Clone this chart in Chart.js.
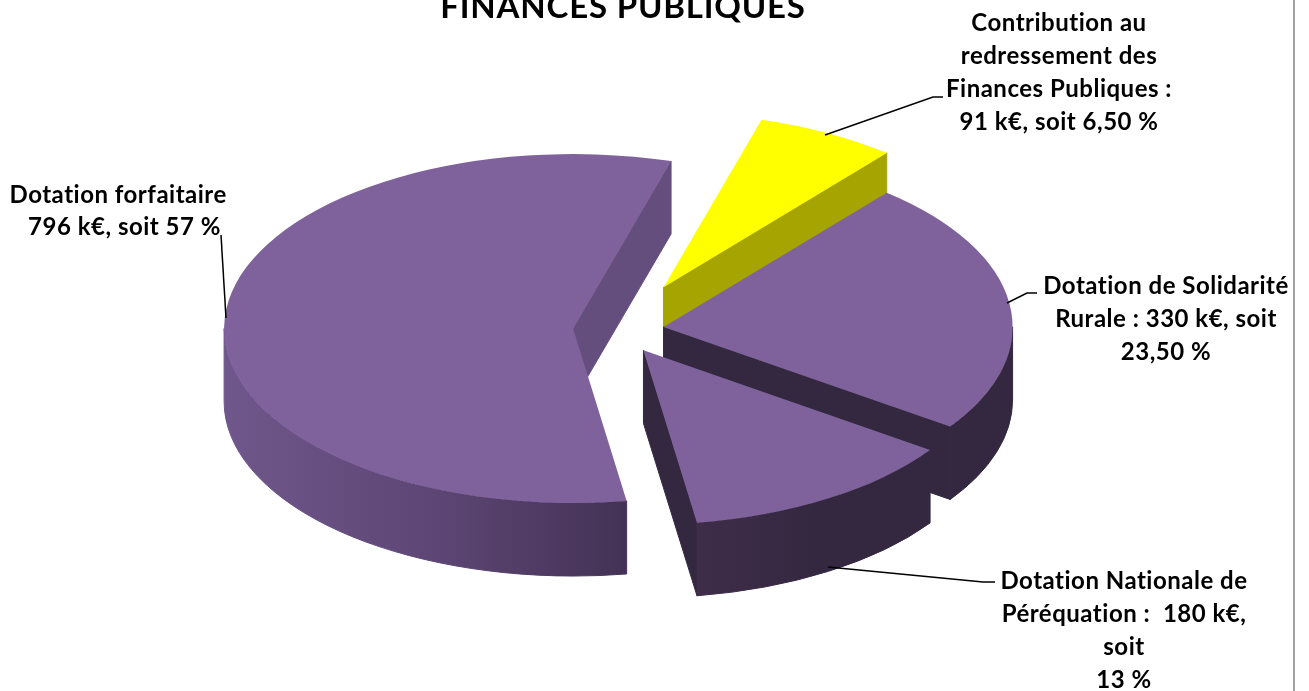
<!DOCTYPE html>
<html lang="fr">
<head>
<meta charset="utf-8">
<title>Finances publiques</title>
<script src="https://cdn.jsdelivr.net/npm/chart.js@4"></script>
<style>
  html, body { margin: 0; background: #fff; }
  #wrap { position: relative; width: 1309px; height: 691px; overflow: hidden; }
  #edge { position: absolute; left: 1293px; top: 0; width: 2px; height: 691px; background: #a3a3a3; }
</style>
</head>
<body>
<div id="wrap">
  <canvas id="pie" width="1309" height="691"></canvas>
  <div id="edge"></div>
</div>
<script>
// ================================
// DATA
// ================================
const chartTitle = 'FINANCES PUBLIQUES';
const categories = [
  'Contribution au redressement des Finances Publiques',
  'Dotation de Solidarité Rurale',
  'Dotation Nationale de Péréquation',
  'Dotation forfaitaire'
];
const amounts = [91, 330, 180, 796];
const labelLines = [
  ['Contribution au', 'redressement des', 'Finances Publiques :', '91 k€, soit 6,50 %'],
  ['Dotation de Solidarité', 'Rurale : 330 k€, soit', '23,50 %'],
  ['Dotation Nationale de', 'Péréquation :  180 k€,', 'soit', '13 %'],
  ['Dotation forfaitaire  ', '796 k€, soit 57 %']
];

// ================================
// LOOK
// ================================
const FONT = 'Lato, "Open Sans", sans-serif';
const SQUASH = 0.5;     // vertical tilt of the pie
const DEPTH = 73;       // height of the extruded walls
const explode = [97, 46, 48, 45];
const topColors = ['#ffff00', '#7f619c', '#7f619c', '#7f619c'];
const edgeColors = ['#a5a400', '#332840', '#332840', '#644e7e'];
const wallColors = [
  ['#a5a400', '#a5a400'],
  ['#332840', '#332840'],
  ['#3f2d4a', '#342840', '#332840'],
  ['#6f578b', '#5e4776', '#443255']
];
const labelAnchors = [[1059, 23], [1166, 286], [1124, 581], [124.5, 195]];
const leaders = [
  [[825, 135], [933, 97], [943, 97]],
  [[1007, 303], [1027, 293], [1037, 293]],
  [[828, 567], [983, 582], [995, 582]],
  [[221, 235], [226, 318]]
];
const drawOrder = [0, 3, 1, 2];

// ================================
// 3D PIE DRAWING
// ================================
function sliceCenter(arc, i) {
  const mid = (arc.startAngle + arc.endAngle) / 2;
  return {
    x: arc.x + Math.cos(mid) * explode[i],
    y: arc.y + Math.sin(mid) * explode[i] * SQUASH
  };
}

function radialWall(ctx, c, r, angle, color) {
  const px = c.x + Math.cos(angle) * r;
  const py = c.y + Math.sin(angle) * r * SQUASH;
  ctx.fillStyle = color;
  ctx.strokeStyle = color;
  ctx.lineWidth = 1;
  ctx.beginPath();
  ctx.moveTo(c.x, c.y);
  ctx.lineTo(px, py);
  ctx.lineTo(px, py + DEPTH);
  ctx.lineTo(c.x, c.y + DEPTH);
  ctx.closePath();
  ctx.fill();
  ctx.stroke();
}

function outerWall(ctx, c, r, arc, colors) {
  // only the part of the rim facing the viewer, canvas angles 0..PI
  const tau = Math.PI * 2;
  let a = arc.startAngle;
  let b = arc.endAngle;
  if (a > Math.PI) { a -= tau; b -= tau; }
  const from = Math.max(a, 0);
  const to = Math.min(b, Math.PI);
  if (to <= from) return;

  const grad = ctx.createLinearGradient(
    c.x + Math.cos(to) * r, 0, c.x + Math.cos(from) * r, 0
  );
  colors.forEach((color, n) => grad.addColorStop(n / (colors.length - 1), color));

  ctx.fillStyle = grad;
  ctx.strokeStyle = grad;
  ctx.lineWidth = 1;
  ctx.beginPath();
  ctx.ellipse(c.x, c.y, r, r * SQUASH, 0, from, to);
  ctx.ellipse(c.x, c.y + DEPTH, r, r * SQUASH, 0, to, from, true);
  ctx.closePath();
  ctx.fill();
  ctx.stroke();
}

const pie3d = {
  id: 'pie3d',
  beforeDatasetsDraw(chart) {
    const { ctx } = chart;
    const arcs = chart.getDatasetMeta(0).data;

    drawOrder.forEach((i) => {
      const arc = arcs[i];
      const c = sliceCenter(arc, i);
      const r = arc.outerRadius;

      // cut faces are seen only when they turn towards the viewer
      if (Math.cos(arc.startAngle) < 0) radialWall(ctx, c, r, arc.startAngle, edgeColors[i]);
      if (Math.cos(arc.endAngle) > 0) radialWall(ctx, c, r, arc.endAngle, edgeColors[i]);
      outerWall(ctx, c, r, arc, wallColors[i]);

      // top face: the library's own arc, flattened and moved out
      ctx.save();
      ctx.translate(c.x, c.y);
      ctx.scale(1, SQUASH);
      ctx.translate(-arc.x, -arc.y);
      arc.draw(ctx);
      ctx.restore();
    });
    return false;
  },
  afterDraw(chart) {
    const { ctx } = chart;
    ctx.save();

    ctx.strokeStyle = '#000';
    ctx.lineWidth = 1.5;
    leaders.forEach((pts) => {
      ctx.beginPath();
      pts.forEach(([x, y], n) => (n ? ctx.lineTo(x, y) : ctx.moveTo(x, y)));
      ctx.stroke();
    });

    ctx.fillStyle = '#000';
    ctx.textAlign = 'center';
    ctx.textBaseline = 'middle';
    ctx.font = `bold 24px ${FONT}`;
    ctx.letterSpacing = '0.5px';
    labelLines.forEach((lines, i) => {
      const [x, y] = labelAnchors[i];
      const step = i === 3 ? 32 : 33;
      lines.forEach((line, n) => ctx.fillText(line, x, y + n * step));
    });

    ctx.font = `bold 33px ${FONT}`;
    ctx.letterSpacing = '0.8px';
    ctx.textBaseline = 'alphabetic';
    ctx.fillText(chartTitle, 623, 18);
    ctx.restore();
  }
};

// ================================
// CHART
// ================================
new Chart(document.getElementById('pie'), {
  type: 'pie',
  data: {
    labels: categories,
    datasets: [{
      data: amounts,
      backgroundColor: topColors,
      borderWidth: 0,
      radius: 349
    }]
  },
  options: {
    responsive: false,
    animation: false,
    rotation: 16.3,
    layout: { padding: { right: 73, bottom: 31 } },
    plugins: { legend: { display: false }, tooltip: { enabled: false } }
  },
  plugins: [pie3d]
});
</script>
</body>
</html>
